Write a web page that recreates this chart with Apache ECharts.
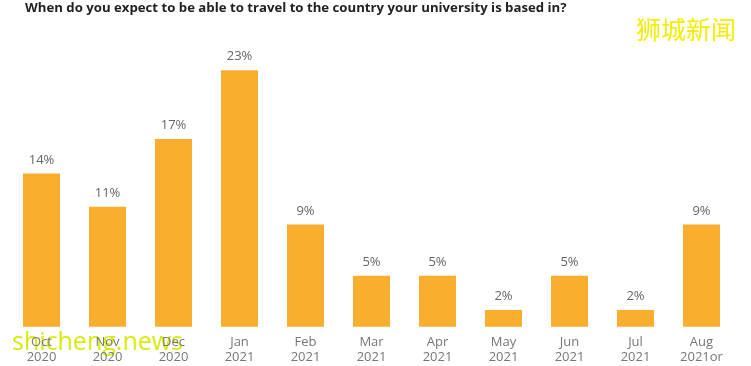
<!DOCTYPE html>
<html>
<head>
<meta charset="utf-8">
<script src="https://cdn.jsdelivr.net/npm/echarts@6/dist/echarts.min.js"></script>
<style>html,body{margin:0;padding:0;background:#fff}#c{width:751px;height:366px}</style>
</head>
<body>
<div id="c"></div>
<script>
var categories = ['Oct\n2020','Nov\n2020','Dec\n2020','Jan\n2021','Feb\n2021','Mar\n2021','Apr\n2021','May\n2021','Jun\n2021','Jul\n2021','Aug\n2021or'];
var values = [13.8, 10.8, 16.9, 23.1, 9.2, 4.6, 4.6, 1.5, 4.6, 1.5, 9.2];
var titleText = 'When do you expect to be able to travel to the country your university is based in?';

var chart = echarts.init(document.getElementById('c'));
chart.setOption({
  animation: false,
  backgroundColor: '#fff',
  title: {
    text: titleText,
    left: 20, top: -3,
    textStyle: {fontFamily: 'Open Sans', fontWeight: 'bold', fontSize: 13.2, color: '#222'}
  },
  grid: {left: 8.5, right: 16.5, top: 49.2, bottom: 39.3, containLabel: false},
  xAxis: {
    type: 'category',
    data: categories,
    axisLine: {show: false},
    axisTick: {show: false},
    axisLabel: {color: '#777', fontFamily: 'Open Sans', fontSize: 13, lineHeight: 15, margin: 8, interval: 0}
  },
  yAxis: {type: 'value', min: 0, max: 25, show: false, splitLine: {show: false}},
  series: [{
    type: 'bar',
    data: values,
    barWidth: 37,
    itemStyle: {color: '#F9AE2E'},
    label: {
      show: true, position: 'top', distance: 7,
      color: '#666', fontFamily: 'Open Sans', fontSize: 13,
      formatter: function(p){ return Math.round(p.value) + '%'; }
    }
  }],
  graphic: [
    {type: 'text', left: 636, top: 17, style: {text: '狮城新闻', fill: '#f2ee00', font: '25px "Noto Sans CJK SC"', shadowColor: 'rgba(0,0,0,0.6)', shadowBlur: 2, shadowOffsetX: 1, shadowOffsetY: 1}},
    {type: 'text', left: 12, top: 330, style: {text: 'shicheng.news', fill: '#d6ea00', font: '25px "Open Sans"', opacity: 0.95}}
  ]
});
</script>
</body>
</html>
